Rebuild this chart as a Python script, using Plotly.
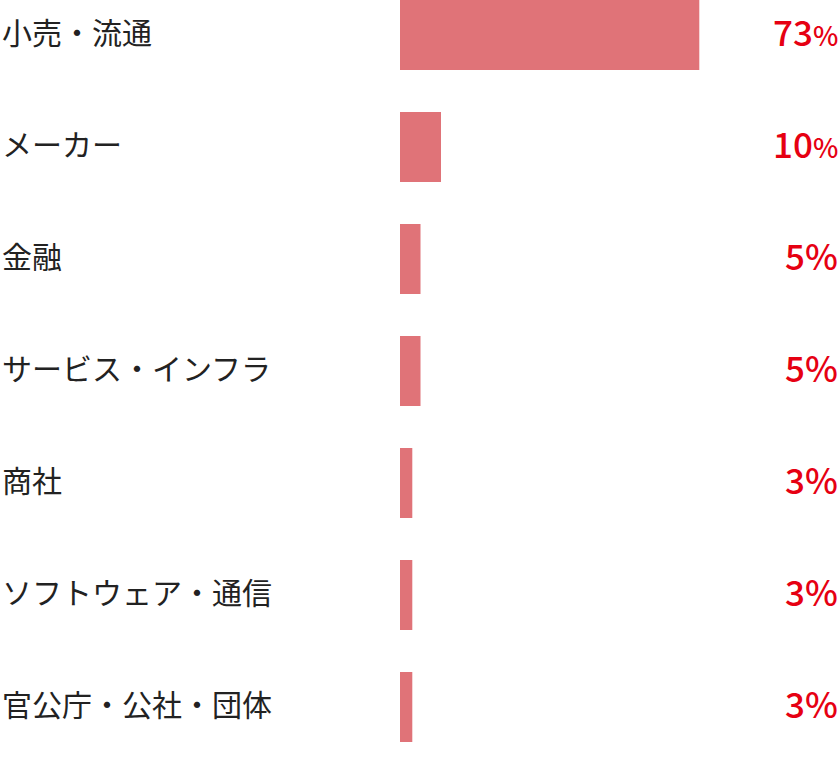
import plotly.graph_objects as go

categories = ["小売・流通", "メーカー", "金融", "サービス・インフラ", "商社", "ソフトウェア・通信", "官公庁・公社・団体"]
values = [73, 10, 5, 5, 3, 3, 3]

W, H = 840, 764
px_per_unit = 4.1
plot_left = 400
y_idx = list(range(len(categories)))

fig = go.Figure()
fig.add_trace(go.Bar(
    x=values, y=y_idx, orientation="h",
    marker=dict(color="#e07378", line=dict(width=0)),
    width=0.625, hoverinfo="skip",
))

annotations = []
for i, (c, v) in enumerate(zip(categories, values)):
    annotations.append(dict(
        x=0, xref="paper", y=i, yref="y", xanchor="left", yanchor="middle",
        text=c, showarrow=False, xshift=0, yshift=4,
        font=dict(family="Noto Sans CJK JP", size=30, color="#222222"),
    ))
    pct = '<span style="font-size:27px">%</span>' if v >= 10 else "%"
    annotations.append(dict(
        x=840 / W, xref="paper", y=i, yref="y", xanchor="right", yanchor="middle",
        text=f"{v}{pct}", showarrow=False, yshift=5,
        font=dict(family="Noto Sans CJK JP", size=35, color="#e60012", weight=500),
    ))

fig.update_layout(
    width=W, height=H,
    margin=dict(l=0, r=0, t=0, b=0),
    paper_bgcolor="white", plot_bgcolor="white",
    showlegend=False,
    xaxis=dict(domain=[plot_left / W, 1], range=[0, (W - plot_left) / px_per_unit],
               visible=False, fixedrange=True),
    yaxis=dict(range=[(H - 35) / 112, -35 / 112], visible=False, fixedrange=True),
    annotations=annotations,
)

fig.write_html("out.html", config={"displayModeBar": False},
               post_script="document.body.style.margin='0';document.body.style.overflow='hidden';")
